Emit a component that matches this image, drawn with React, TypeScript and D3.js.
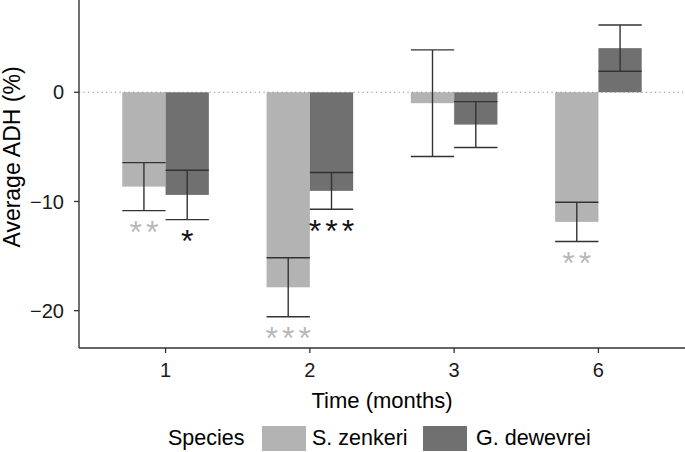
import React from "react";
import * as d3 from "d3";

const months = ["1", "2", "3", "6"];
const species = ["S. zenkeri", "G. dewevrei"];
const zenkeriMean = [-8.64, -17.86, -1.0, -11.87];
const zenkeriSE = [2.2, 2.7, 4.88, 1.8];
const dewevreiMean = [-9.4, -9.03, -2.96, 4.04];
const dewevreiSE = [2.26, 1.68, 2.1, 2.12];
const zenkeriSig = ["**", "***", "", "**"];
const dewevreiSig = ["*", "***", "", ""];
const yTicks = [0, -10, -20];

const W = 685;
const H = 452;
const left = 79;
const right = 685;
const top = 0;
const bottom = 348;
const colors = ["#b3b3b3", "#707070"];
const sigColors = ["#b8b8b8", "#111111"];
const font = "'Liberation Sans', Arial, Helvetica, sans-serif";

export default function App() {
  const x = d3.scalePoint<string>().domain(months).range([left, right]).padding(0.6);
  const step = x.step();
  const bw = (step * 0.6) / 2;
  const y = d3.scaleLinear().domain([-23.42, 8.45]).range([bottom, top]);

  const series = [
    { means: zenkeriMean, se: zenkeriSE, sig: zenkeriSig },
    { means: dewevreiMean, se: dewevreiSE, sig: dewevreiSig },
  ];

  const starFs = 32;
  const starLs = 4;

  return (
    <svg width={W} height={H} style={{ position: "absolute", left: 0, top: 0, background: "#fff" }} fontFamily={font}>
      <rect x={0} y={0} width={W} height={H} fill="#fff" />
      {/* bars */}
      {series.map((s, si) =>
        months.map((m, i) => {
          const x0 = (x(m) as number) - bw + si * bw;
          const v = s.means[i];
          return (
            <rect
              key={`b${si}${i}`}
              x={x0}
              y={Math.min(y(v), y(0))}
              width={bw}
              height={Math.abs(y(v) - y(0))}
              fill={colors[si]}
            />
          );
        })
      )}
      {/* zero line */}
      <line x1={left} x2={right} y1={y(0)} y2={y(0)} stroke="#8a8a8a" strokeWidth={1.1} strokeDasharray="1.2 3.3" />
      {/* error bars */}
      {series.map((s, si) =>
        months.map((m, i) => {
          const x0 = (x(m) as number) - bw + si * bw;
          const cx = x0 + bw / 2;
          const hi = s.means[i] + s.se[i];
          const lo = s.means[i] - s.se[i];
          return (
            <g key={`e${si}${i}`} stroke="#333" strokeWidth={1.4}>
              <line x1={cx} x2={cx} y1={y(hi)} y2={y(lo)} />
              <line x1={x0} x2={x0 + bw} y1={y(hi)} y2={y(hi)} />
              <line x1={x0} x2={x0 + bw} y1={y(lo)} y2={y(lo)} />
            </g>
          );
        })
      )}
      {/* significance stars */}
      {series.map((s, si) =>
        months.map((m, i) => {
          if (!s.sig[i]) return null;
          const cx = (x(m) as number) - bw + si * bw + bw / 2;
          const lo = s.means[i] - s.se[i];
          const cy = y(lo) + 14;
          return (
            <text
              key={`s${si}${i}`}
              x={cx + starLs / 2}
              y={cy + 0.58 * starFs}
              textAnchor="middle"
              fontSize={starFs}
              letterSpacing={starLs}
              fill={sigColors[si]}
            >
              {s.sig[i]}
            </text>
          );
        })
      )}
      {/* axes */}
      <line x1={left} x2={left} y1={top} y2={bottom} stroke="#333" strokeWidth={1.4} />
      <line x1={left} x2={right} y1={bottom} y2={bottom} stroke="#333" strokeWidth={1.4} />
      {yTicks.map((t) => (
        <g key={`yt${t}`}>
          <line x1={left - 5} x2={left} y1={y(t)} y2={y(t)} stroke="#333" strokeWidth={1.3} />
          <text x={left - 15} y={y(t)} dy="0.36em" textAnchor="end" fontSize={20} fill="#1a1a1a">
            {t < 0 ? `\u2212${Math.abs(t)}` : `${t}`}
          </text>
        </g>
      ))}
      {months.map((m) => (
        <g key={`xt${m}`}>
          <line x1={x(m)} x2={x(m)} y1={bottom} y2={bottom + 5} stroke="#333" strokeWidth={1.3} />
          <text x={x(m)} y={377} textAnchor="middle" fontSize={20} fill="#1a1a1a">
            {m}
          </text>
        </g>
      ))}
      <text x={(left + right) / 2} y={408} textAnchor="middle" fontSize={22} fill="#000">
        Time (months)
      </text>
      <text transform={`translate(20,157) rotate(-90)`} textAnchor="middle" fontSize={23} fill="#000">
        Average ADH (%)
      </text>
      {/* legend */}
      <text x={168} y={445} fontSize={21.5} fill="#000">Species</text>
      <rect x={262} y={426} width={44} height={25} fill={colors[0]} />
      <text x={312} y={445} fontSize={21.5} fill="#000">{species[0]}</text>
      <rect x={423} y={426} width={44} height={25} fill={colors[1]} />
      <text x={476} y={445} fontSize={21.5} fill="#000">{species[1]}</text>
    </svg>
  );
}
